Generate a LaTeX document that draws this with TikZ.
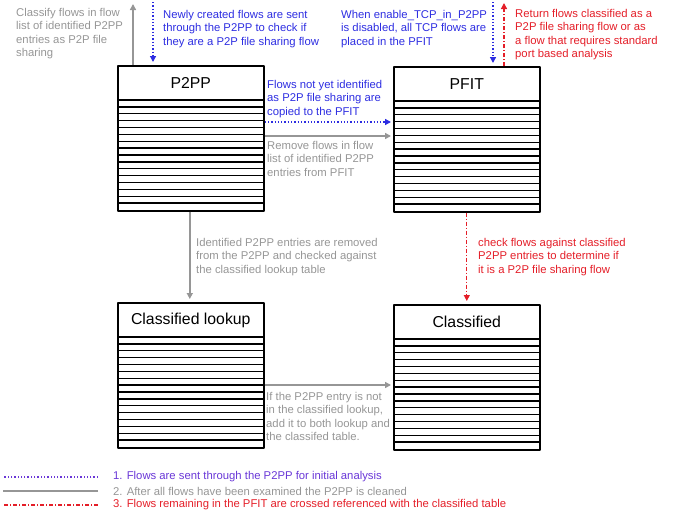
\documentclass[tikz,border=0pt]{standalone}
\usepackage{fontspec}
\setmainfont{Liberation Sans}
\usetikzlibrary{arrows.meta}
\definecolor{flowblue}{RGB}{45,45,225}
\definecolor{flowviolet}{RGB}{105,55,215}
\definecolor{flowgray}{RGB}{150,150,150}
\definecolor{flowred}{RGB}{228,30,40}
\begin{document}
\begin{tikzpicture}[x=1pt, y=-1pt, line join=round,
	note/.style={inner sep=0pt, anchor=north west, align=left, font=\fontsize{11.3}{13.4}\selectfont},
	tbl/.style={draw, line width=1.6pt, minimum width=146pt, minimum height=145pt, inner sep=0pt, anchor=north west},
	ttl/.style={font=\fontsize{15.8}{18}\selectfont},
	row/.style={line width=1.3pt},
	bluline/.style={flowblue, dotted, line width=1.3pt},
	gryline/.style={flowgray, line width=1.5pt},
	redline/.style={flowred, line width=1.3pt, dash pattern=on 4pt off 2pt on 1pt off 2pt},
	tip/.style={-{Triangle[length=6pt,width=6pt]}}]
	\useasboundingbox (0,0) rectangle (673,514);
	\def\hd{35} \def\dr{6.875} % header height, row height
	% four tables
	\foreach \nm/\x/\y/\ttext in {pp/117/65/P2PP, pf/393/66/PFIT, lk/117/302/Classified lookup, cl/393/304/Classified}{
		\node[tbl] (\nm) at (\x,\y) {};
		\node[ttl] at ([yshift=-18pt]\nm.north) {\ttext};
		\foreach \k in {0,...,15}
		\draw[row] ([yshift=-\hd pt-\k*\dr pt]\nm.north west) -- ([yshift=-\hd pt-\k*\dr pt]\nm.north east);
	}
	% free ends at the top
	\coordinate (clsfy) at (133,4);
	\coordinate (newin) at (153,2);
	\coordinate (tcpin) at (493,2);
	\coordinate (retout) at (504,3);
	% connectors
	\draw[gryline, tip] (clsfy |- pp.north) -- (clsfy);
	\draw[bluline, tip] (newin) -- ([yshift=3pt]newin |- pp.north);
	\draw[bluline, tip] (tcpin) -- ([yshift=3pt]tcpin |- pf.north);
	\draw[redline, tip] (retout |- pf.north) -- (retout);
	\draw[bluline, tip] ([yshift=-57pt]pp.north east) -- ([xshift=-2pt, yshift=-56pt]pf.north west);
	\draw[gryline, tip] ([yshift=-71pt]pp.north east) -- ([xshift=-2pt, yshift=-70pt]pf.north west);
	\draw[gryline, tip] ([xshift=-1pt]pp.south) -- ([xshift=-1pt, yshift=3pt]lk.north);
	\draw[redline, tip] (pf.south) -- ([yshift=3pt]cl.north);
	\draw[gryline, tip] ([yshift=-83pt]lk.north east) -- ([xshift=-2pt, yshift=-81pt]cl.north west);
	% labels
	\node[note, flowgray] (t1) at (16,8) {Classify flows in flow\\list of identified P2PP\\entries as P2P file\\sharing};
	\node[note, flowblue] (t2) at (163,10) {Newly created flows are sent\\through the P2PP to check if\\they are a P2P file sharing flow};
	\node[note, flowblue] (t3) at (341,10) {When enable\_TCP\_in\_P2PP\\is disabled, all TCP flows are\\placed in the PFIT};
	\node[note, flowred] (t4) at (515,9) {Return flows classified as a\\P2P file sharing flow or as\\a flow that requires standard\\port based analysis};
	\node[note, flowblue] (t5) at (267,80) {Flows not yet identified\\as P2P file sharing are\\copied to the PFIT};
	\node[note, flowgray] (t6) at (267,141) {Remove flows in flow\\list of identified P2PP\\entries from PFIT};
	\node[note, flowgray] (t7) at (196,238) {Identified P2PP entries are removed\\from the P2PP and checked against\\the classified lookup table};
	\node[note, flowred] (t8) at (478,238) {check flows against classified\\P2PP entries to determine if\\it is a P2P file sharing flow};
	\node[note, flowgray] (t9) at (266,392) {If the P2PP entry is not\\in the classified lookup,\\add it to both lookup and\\the classifed table.};
	% legend
	\node[note, anchor=west, flowviolet] (lg1) at (113,477) {1. Flows are sent through the P2PP for initial analysis};
	\node[note, anchor=west, flowgray] (lg2) at (113,491) {2. After all flows have been examined the P2PP is cleaned};
	\node[note, anchor=west, flowred] (lg3) at (113,505) {3. Flows remaining in the PFIT are crossed referenced with the classified table};
	\draw[bluline, flowviolet] ([xshift=-15pt]lg1.west) -- ++(-95,0);
	\draw[gryline] ([xshift=-15pt]lg2.west) -- ++(-95,0);
	\draw[redline] ([xshift=-15pt]lg3.west) -- ++(-95,0);
\end{tikzpicture}
\end{document}
